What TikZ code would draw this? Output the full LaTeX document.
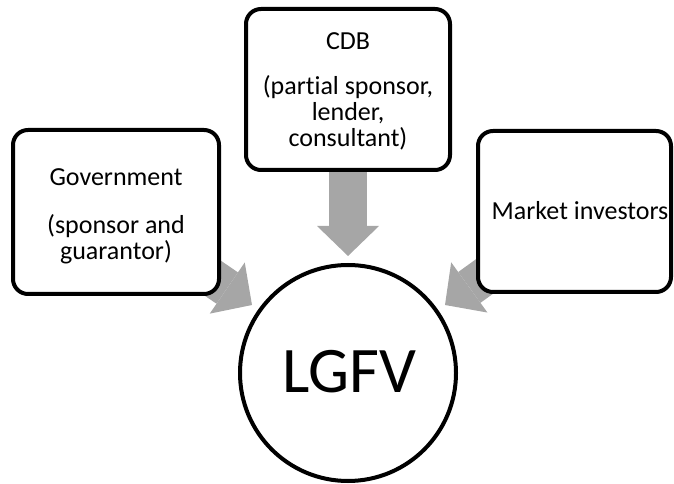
\documentclass[tikz,border=0pt]{standalone}
\usepackage{fontspec}
\setmainfont[Ligatures=NoCommon]{Carlito}
\usetikzlibrary{arrows.meta}
\definecolor{arrowgray}{RGB}{166,166,166}
\tikzset{
  roundbox/.style={draw=black, line width=4pt, fill=white, rounded corners=15pt, inner sep=0pt, outer sep=0pt},
  hub/.style={circle, draw=black, line width=4pt, fill=white, minimum size=216pt, inner sep=0pt},
  lbl/.style={anchor=base, inner sep=0pt, font=\fontsize{26}{26}\selectfont},
  biglbl/.style={anchor=base, inner sep=0pt, font=\fontsize{65}{65}\selectfont},
  blockarrow/.style={draw=arrowgray, line width=38pt, line cap=butt,
     -{Triangle[length=30pt,width=62pt,line width=0pt,fill=arrowgray]}}
}
\begin{document}
\begin{tikzpicture}[x=1pt,y=1pt]
\useasboundingbox (0,0) rectangle (674,484);
% box centres
\coordinate (govc) at (116,272);
\coordinate (cdbc) at (348,394.5);
\coordinate (mktc) at (574.5,272.5);
\coordinate (lgc) at (348,111);
% arrow tips
\coordinate (tipg) at (252,179);
\coordinate (tipc) at (348,228);
\coordinate (tipm) at (445,179);
% connectors (behind boxes)
\draw[blockarrow] (govc) -- (tipg);
\draw[blockarrow] (cdbc) -- (tipc);
\draw[blockarrow] (mktc) -- (tipm);
% boxes
\node[roundbox, minimum width=206pt, minimum height=164pt] (gov) at (govc) {};
\node[roundbox, minimum width=204pt, minimum height=161pt] (cdb) at (cdbc) {};
\node[roundbox, minimum width=193pt, minimum height=161pt] (mkt) at (mktc) {};
\node[hub] (lgfv) at (lgc) {};
% texts
\node[lbl] (gov1) at (116,298) {Government};
\node[lbl] (gov2) at (116,250) {(sponsor and};
\node[lbl] (gov3) at (116,224.5) {guarantor)};
\node[lbl] (cdb1) at (348,434) {CDB};
\node[lbl] (cdb2) at (348,389) {(par\kern0pt tial sponsor,};
\node[lbl] (cdb3) at (348,363) {lender,};
\node[lbl] (cdb4) at (348,337) {consultant)};
\node[lbl] (mkt1) at (580,264) {Market investors};
\node[biglbl] (lg1) at (349.5,91) {LGFV};
\end{tikzpicture}
\end{document}
